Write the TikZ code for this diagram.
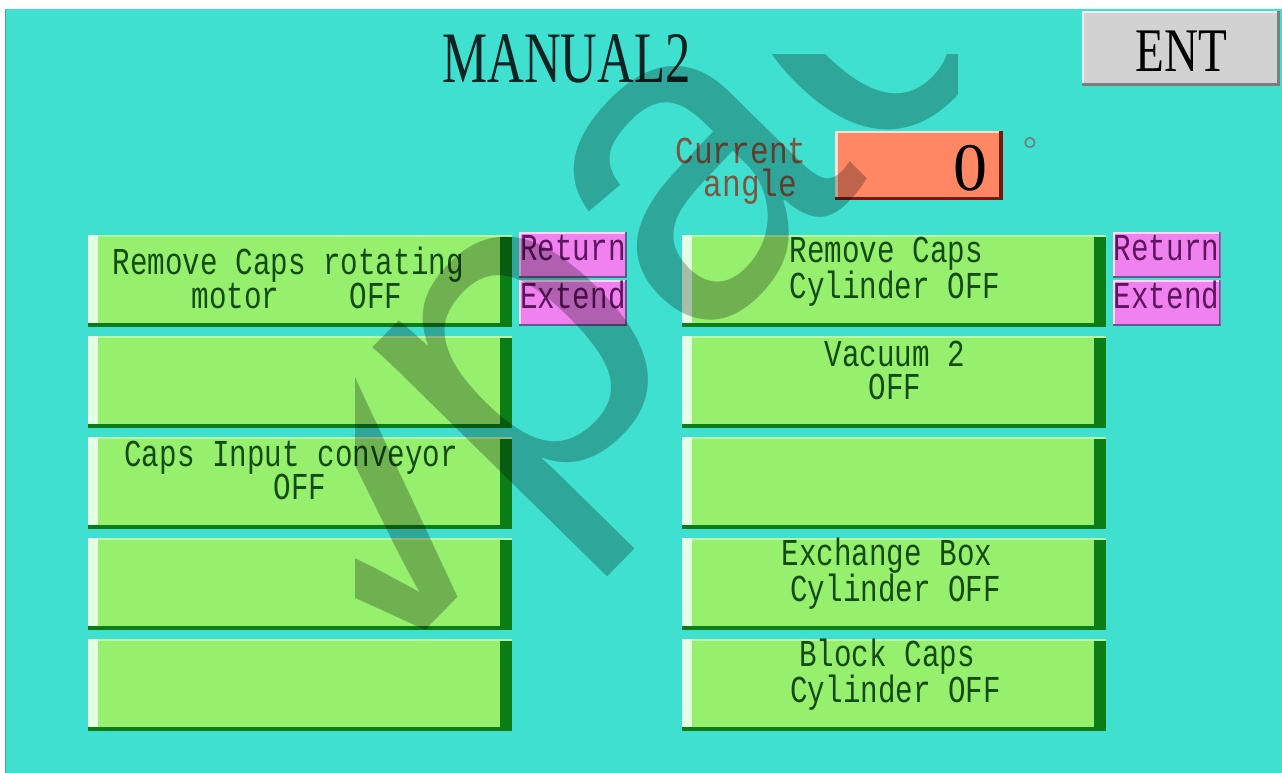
\documentclass[tikz,border=0pt]{standalone}
\usepackage{fontspec}
\setmainfont{Liberation Serif}
\newfontfamily\titleserif{Liberation Serif}[FakeStretch=0.70]
\newfontfamily\entserif{Liberation Serif}[FakeStretch=0.76]
\newfontfamily\hmimono{Liberation Mono}[FakeStretch=0.77]
\newfontfamily\anglemono{Liberation Mono}[FakeStretch=0.82]
\newfontfamily\wmfont{Liberation Sans}
\newcommand\hs{\mbox{\ }}
\definecolor{bgcyan}{RGB}{64,224,208}
\definecolor{edgeteal}{RGB}{60,170,160}
\definecolor{btngreen}{RGB}{150,240,110}
\definecolor{btntop}{RGB}{185,250,165}
\definecolor{btnlight}{RGB}{228,255,228}
\definecolor{btndark}{RGB}{12,125,22}
\definecolor{btntext}{RGB}{20,75,20}
\definecolor{magfill}{RGB}{240,130,240}
\definecolor{maglight}{RGB}{250,215,250}
\definecolor{magdark}{RGB}{95,90,140}
\definecolor{magtext}{RGB}{95,20,95}
\definecolor{coralfill}{RGB}{255,135,100}
\definecolor{corallight}{RGB}{250,225,205}
\definecolor{darkred}{RGB}{120,25,15}
\definecolor{entgray}{RGB}{210,210,210}
\definecolor{entlight}{RGB}{240,240,240}
\definecolor{entdark}{RGB}{125,125,125}
\definecolor{angletext}{RGB}{125,85,65}
\definecolor{titletext}{RGB}{10,35,35}
\definecolor{degreegray}{RGB}{110,125,125}
\begin{document}
\begin{tikzpicture}[x=1pt,y=-1pt,
  btn/.style={rectangle, fill=btngreen, inner sep=0pt,
    minimum width=424pt, minimum height=92pt,
    path picture={
      \fill[btntop] (path picture bounding box.north west) rectangle ([yshift=-2pt]path picture bounding box.north east);
      \fill[btnlight] (path picture bounding box.north west) rectangle ([xshift=10pt]path picture bounding box.south west);
      \fill[btndark] ([xshift=-12pt,yshift=-2pt]path picture bounding box.north east) rectangle (path picture bounding box.south east);
      \fill[btndark] ([yshift=4pt]path picture bounding box.south west) rectangle (path picture bounding box.south east);
    }},
  btntxt/.style={font=\hmimono\fontsize{38}{33.5}\selectfont, text=btntext,
    align=center, inner sep=0pt, anchor=base},
  magbox/.style={rectangle, fill=magfill, inner sep=0pt,
    minimum width=108pt, minimum height=46pt,
    font=\hmimono\fontsize{38}{38}\selectfont, text=magtext,
    text height=12pt, text depth=0pt,
    path picture={
      \fill[maglight] (path picture bounding box.north west) rectangle ([yshift=-2pt]path picture bounding box.north east);
      \fill[maglight] (path picture bounding box.north west) rectangle ([xshift=2pt]path picture bounding box.south west);
      \fill[magdark] ([xshift=-2pt]path picture bounding box.north east) rectangle (path picture bounding box.south east);
      \fill[magdark] ([yshift=2pt]path picture bounding box.south west) rectangle (path picture bounding box.south east);
    }},
  anglebox/.style={rectangle, fill=coralfill, inner sep=0pt,
    minimum width=168pt, minimum height=69pt,
    path picture={
      \fill[corallight] (path picture bounding box.north west) rectangle ([yshift=-2pt]path picture bounding box.north east);
      \fill[corallight] (path picture bounding box.north west) rectangle ([xshift=3pt]path picture bounding box.south west);
      \fill[darkred] ([xshift=-4pt]path picture bounding box.north east) rectangle (path picture bounding box.south east);
      \fill[darkred] ([yshift=3pt]path picture bounding box.south west) rectangle (path picture bounding box.south east);
    }},
  entbox/.style={rectangle, fill=entgray, inner sep=0pt,
    minimum width=198pt, minimum height=75pt,
    font=\entserif\fontsize{62}{62}\selectfont, text=black,
    text height=47pt, text depth=0pt,
    path picture={
      \fill[entlight] (path picture bounding box.north west) rectangle ([yshift=-2pt]path picture bounding box.north east);
      \fill[entlight] (path picture bounding box.north west) rectangle ([xshift=2pt]path picture bounding box.south west);
      \fill[entdark] ([xshift=-3pt]path picture bounding box.north east) rectangle (path picture bounding box.south east);
      \fill[entdark] ([yshift=3pt]path picture bounding box.south west) rectangle (path picture bounding box.south east);
    }}
]
\useasboundingbox (0,0) rectangle (1282,773);
\fill[white] (0,0) rectangle (1282,773);
\fill[bgcyan] (5,9) rectangle (1282,773);
\draw[edgeteal, line width=1.5pt] (5.5,9) -- (5.5,773);

% title
\node[font=\titleserif\fontsize{72.5}{72.5}\selectfont, text=titletext, anchor=base, inner sep=0pt] (title) at (566.5,83) {MANUAL2};
\node[entbox] (ent) at (1181,48.5) {ENT};

% current angle
\node[font=\anglemono\fontsize{38}{33}\selectfont, text=angletext, align=center, anchor=base, inner sep=0pt] (anglelbl) at (741,196) {Current\\\hs angle};
\node[anglebox] (anglebox) at (919,165.5) {};
\node[font=\rmfamily\fontsize{68}{68}\selectfont, text=black, anchor=base, inner sep=0pt] (zero) at (970,190) {0};
\node[font=\rmfamily\fontsize{36}{36}\selectfont, text=degreegray, anchor=base, inner sep=0pt] (deg) at (1030,161) {°};

% left column buttons
\node[btn] (L1) at (300,281) {};
\node[btn] (L2) at (300,382) {};
\node[btn] (L3) at (300,483) {};
\node[btn] (L4) at (300,584) {};
\node[btn] (L5) at (300,685) {};
\node[btntxt] (L1t) at (297,308) {Remove Caps rotating\hs\\motor\ \ \ \ OFF};
\node[btntxt] (L3t) at (300,499.5) {Caps Input conveyor\hs\\OFF};

% right column buttons
\node[btn] (R1) at (894,281) {};
\node[btn] (R2) at (894,382) {};
\node[btn] (R3) at (894,483) {};
\node[btn] (R4) at (894,584) {};
\node[btn] (R5) at (894,685) {};
\node[btntxt] (R1t) at (895,298.5) {Remove Caps\hs\\Cylinder OFF};
\node[btntxt] (R2t) at (895,399.5) {Vacuum 2\\OFF};
\node[btntxt] (R4t) at (887,601.5) {Exchange Box\\\hs Cylinder OFF};
\node[btntxt] (R5t) at (887,702.5) {Block Caps\\\hs Cylinder OFF};

% return / extend
\node[magbox] (retL) at (573,254.5) {Return};
\node[magbox] (extL) at (573,302.5) {Extend};
\node[magbox] (retR) at (1166.5,254.5) {Return};
\node[magbox] (extR) at (1166.5,302.5) {Extend};

% watermark
\begin{scope}
\clip (355,55) rectangle (957,773);
\node[rotate=45.5, anchor=base west, inner sep=0pt, font=\wmfont\fontsize{446}{446}\selectfont, text=black, text opacity=0.26] (wm) at (364,693) {vpac};
\end{scope}
\end{tikzpicture}
\end{document}
